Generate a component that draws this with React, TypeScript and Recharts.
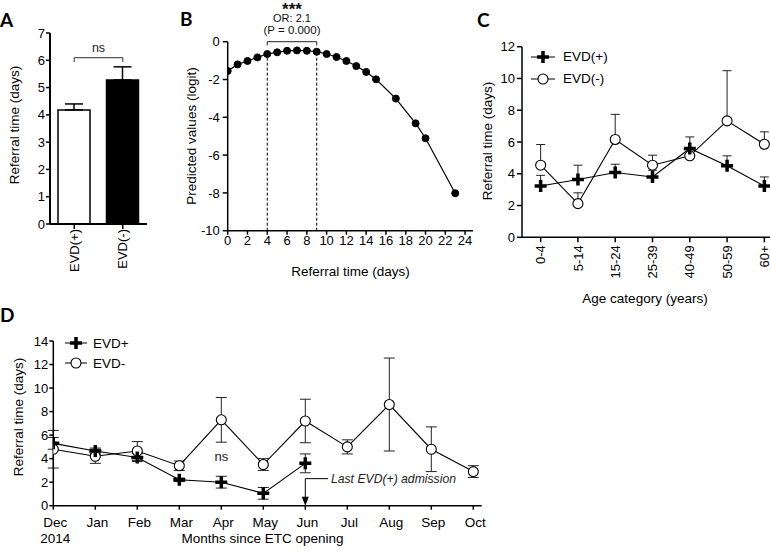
import React from "react";
import {
  BarChart,
  Bar,
  Cell,
  LineChart,
  Line,
  XAxis,
  YAxis,
  ErrorBar,
  ReferenceLine,
  ReferenceDot,
  Legend,
} from "recharts";

const W = 770;
const H = 554;
const FONT = "'Liberation Sans', Arial, sans-serif";

// A: referral time by EVD status
const groupsA = ["EVD(+)", "EVD(-)"];
const meanA = [4.18, 5.28];
const semA = [0.22, 0.48];

// B: predicted logit vs referral time
const daysB = [0, 1, 2, 3, 4, 5, 6, 7, 8, 9, 10, 11, 12, 13, 14, 15, 17, 19, 20, 23];
const logitB = [-1.55, -1.2, -1.02, -0.83, -0.65, -0.56, -0.48, -0.46, -0.48, -0.53, -0.65, -0.81, -1.02, -1.29, -1.6, -1.99, -3.01, -4.32, -5.11, -8.02];

// C: referral time by age category
const ageCats = ["0-4", "5-14", "15-24", "25-39", "40-49", "50-59", "60+"];
const posC = [3.23, 3.64, 4.08, 3.8, 5.59, 4.5, 3.23];
const posCErr = [0.67, 0.9, 0.52, 0.42, 0.73, 0.63, 0.57];
const negC = [4.54, 2.12, 6.16, 4.54, 5.13, 7.33, 5.86];
const negCErr = [1.3, 0.68, 1.58, 0.63, 0.5, 3.16, 0.78];

// D: referral time by month
const months = ["Dec", "Jan", "Feb", "Mar", "Apr", "May", "Jun", "Jul", "Aug", "Sep", "Oct"];
const posD = [5.3, 4.65, 4.1, 2.2, 2.0, 1.05, 3.6];
const posDErr = [0.5, 0.25, 0.35, 0.15, 0.5, 0.5, 0.8];
const negD = [4.8, 4.2, 4.65, 3.4, 7.3, 3.5, 7.2, 5.0, 8.6, 4.8, 2.9];
const negDErr = [1.6, 0.6, 0.8, 0.4, 1.9, 0.5, 1.85, 0.6, 3.95, 1.9, 0.5];

const dataA = groupsA.map((g, i) => ({ group: g, mean: meanA[i], err: [0, semA[i]] }));
const dataB = daysB.map((d, i) => ({ day: d, logit: logitB[i] }));
const posCData = posC.map((v, i) => ({ i, v, e: [0, posCErr[i]] }));
const negCData = negC.map((v, i) => ({ i, v, e: [0, negCErr[i]] }));
const posDData = posD.map((v, i) => ({ m: i, v, e: posDErr[i] }));
const negDData = negD.map((v, i) => ({ m: i, v, e: negDErr[i] }));

// plot box -> margin
function box(x0: number, x1: number, y0: number, y1: number, yw: number, xh: number, w = W) {
  return { top: y0, left: x0 - yw, right: w - x1, bottom: H - y1 - xh };
}

const axisLine = { stroke: "#000", strokeWidth: 1.5 };
const tickLine = { stroke: "#000", strokeWidth: 1.5 };
const tickStyle = { fill: "#000", fontSize: 13, fontFamily: FONT };

function RotTick(props: any) {
  const { x, y, payload, labels } = props;
  const label = labels ? labels[payload.value] : payload.value;
  return (
    <text x={x} y={y} transform={`rotate(-90 ${x} ${y})`} textAnchor="end" dy="0.36em" fontSize={13} fontFamily={FONT} fill="#000">
      {label}
    </text>
  );
}

function MonthTick(props: any) {
  const { x, y, payload } = props;
  return (
    <text x={x + 2} y={y} textAnchor="middle" fontSize={13.5} fontFamily={FONT} fill="#000">
      <tspan x={x + 2} dy="0.71em">{months[payload.value]}</tspan>
      {payload.value === 0 && <tspan x={x + 2} dy={16}>2014</tspan>}
    </text>
  );
}

function plusDot(props: any) {
  const { cx, cy, index } = props;
  if (cx == null || cy == null) return <g key={index} />;
  return (
    <path key={index} d={`M${cx - 6} ${cy}H${cx + 6}M${cx} ${cy - 6}V${cy + 6}`} stroke="#000" strokeWidth={3.5} fill="none" />
  );
}

function circleDot(props: any) {
  const { cx, cy, index } = props;
  if (cx == null || cy == null) return <g key={index} />;
  return <circle key={index} cx={cx} cy={cy} r={5} fill="#fff" stroke="#000" strokeWidth={1.1} />;
}

function LegendBox({ items, iconW, gap, rowH }: any) {
  return (
    <div style={{ fontFamily: FONT, fontSize: 13.5, color: "#000" }}>
      {items.map((it: any) => (
        <div key={it.name} style={{ display: "flex", alignItems: "center", height: rowH }}>
          <svg width={iconW} height={14}>
            <line x1={0} x2={iconW} y1={7} y2={7} stroke="#000" strokeWidth={1} />
            {it.plus ? (
              <path d={`M${iconW / 2 - 6} 7H${iconW / 2 + 6}M${iconW / 2} 1V13`} stroke="#000" strokeWidth={3.5} />
            ) : (
              <circle cx={iconW / 2} cy={7} r={5} fill="#fff" stroke="#000" strokeWidth={1.1} />
            )}
          </svg>
          <span style={{ marginLeft: gap }}>{it.name}</span>
        </div>
      ))}
    </div>
  );
}

const layer: React.CSSProperties = { position: "absolute", left: 0, top: 0 };

export default function App() {
  return (
    <div style={{ position: "absolute", left: 0, top: 0, width: W, height: H, overflow: "hidden", background: "#fff", fontFamily: FONT }}>
      {/* A */}
      <div style={layer}>
        <BarChart width={W} height={H} data={dataA} margin={box(50, 147, 33, 224, 50, 60)}>
          <XAxis dataKey="group" height={60} interval={0} tickSize={5} tickMargin={0} axisLine={{ stroke: "#000", strokeWidth: 2 }} tickLine={tickLine} tick={<RotTick />} />
          <YAxis type="number" domain={[0, 7]} ticks={[0, 1, 2, 3, 4, 5, 6, 7]} width={50} tickSize={4} tickMargin={1} axisLine={{ stroke: "#000", strokeWidth: 2 }} tickLine={tickLine} tick={tickStyle} />
          <Bar dataKey="mean" barSize={32} stroke="#000" strokeWidth={1.5} isAnimationActive={false}>
            {dataA.map((d, i) => (
              <Cell key={d.group} fill={i === 0 ? "#fff" : "#000"} />
            ))}
            <ErrorBar dataKey="err" width={9} stroke="#000" strokeWidth={1.5} direction="y" isAnimationActive={false} />
          </Bar>
          <ReferenceLine segment={[{ x: "EVD(+)", y: 6.1 }, { x: "EVD(-)", y: 6.1 }]} stroke="#555" strokeWidth={1.2} label={{ value: "ns", position: "top", offset: 6, fill: "#222", fontSize: 12.5, fontFamily: FONT }} />
          <ReferenceLine segment={[{ x: "EVD(+)", y: 6.1 }, { x: "EVD(+)", y: 5.94 }]} stroke="#555" strokeWidth={1.2} />
          <ReferenceLine segment={[{ x: "EVD(-)", y: 6.1 }, { x: "EVD(-)", y: 5.94 }]} stroke="#555" strokeWidth={1.2} />
        </BarChart>
      </div>

      {/* B */}
      <div style={layer}>
        <LineChart width={W} height={H} data={dataB} margin={box(227.7, 473, 41.7, 230.7, 45, 40)}>
          <XAxis type="number" dataKey="day" domain={[0, 24.8]} allowDataOverflow ticks={[0, 2, 4, 6, 8, 10, 12, 14, 16, 18, 20, 22, 24]} interval={0} height={40} tickSize={4} tickMargin={1} axisLine={axisLine} tickLine={tickLine} tick={tickStyle} />
          <YAxis type="number" domain={[-10, 0]} allowDataOverflow ticks={[-10, -8, -6, -4, -2, 0]} width={45} tickSize={5} tickMargin={3} axisLine={axisLine} tickLine={tickLine} tick={tickStyle} />
          <ReferenceLine segment={[{ x: 4, y: -10 }, { x: 4, y: -0.65 }]} stroke="#000" strokeWidth={1} strokeDasharray="3 2" />
          <ReferenceLine segment={[{ x: 9, y: -10 }, { x: 9, y: -0.53 }]} stroke="#000" strokeWidth={1} strokeDasharray="3 2" />
          <ReferenceLine segment={[{ x: 4, y: 0 }, { x: 9, y: 0 }]} stroke="#222" strokeWidth={1} />
          <ReferenceLine segment={[{ x: 4, y: 0 }, { x: 4, y: -0.2 }]} stroke="#222" strokeWidth={1} />
          <ReferenceLine segment={[{ x: 9, y: 0 }, { x: 9, y: -0.2 }]} stroke="#222" strokeWidth={1} />
          <ReferenceDot
            x={6.5}
            y={0}
            ifOverflow="visible"
            shape={(p: any) => (
              <g fontFamily={FONT} textAnchor="middle" fill="#111">
                <text x={p.cx} y={p.cy - 26.5} fontSize={17} fontWeight="bold">***</text>
                <text x={p.cx} y={p.cy - 23.5} fontSize={11} dominantBaseline="central">OR: 2.1</text>
                <text x={p.cx} y={p.cy - 11.5} fontSize={11.5} dominantBaseline="central">(P = 0.000)</text>
              </g>
            )}
          />
          <Line dataKey="logit" stroke="#000" strokeWidth={1.2} dot={{ r: 3.5, fill: "#000", stroke: "#000", strokeWidth: 1 }} isAnimationActive={false} />
        </LineChart>
      </div>

      {/* C */}
      <div style={layer}>
        <LineChart width={800} height={H} margin={box(522, 783, 46.7, 237.3, 45, 60, 800)}>
          <XAxis type="number" dataKey="i" domain={[-0.5, 6.5]} allowDataOverflow ticks={[0, 1, 2, 3, 4, 5, 6]} interval={0} height={60} tickSize={5} tickMargin={3} axisLine={axisLine} tickLine={tickLine} tick={<RotTick labels={ageCats} />} />
          <YAxis type="number" domain={[0, 12]} ticks={[0, 2, 4, 6, 8, 10, 12]} width={45} tickSize={5} tickMargin={2} axisLine={axisLine} tickLine={tickLine} tick={tickStyle} />
          <Line data={negCData} dataKey="v" stroke="#000" strokeWidth={1.1} dot={circleDot} isAnimationActive={false}>
            <ErrorBar dataKey="e" width={4.5} stroke="#222" strokeWidth={1} direction="y" isAnimationActive={false} />
          </Line>
          <Line data={posCData} dataKey="v" stroke="#000" strokeWidth={1.1} dot={plusDot} isAnimationActive={false}>
            <ErrorBar dataKey="e" width={4.5} stroke="#222" strokeWidth={1} direction="y" isAnimationActive={false} />
          </Line>
          <Legend
            layout="vertical"
            align="center"
            verticalAlign="middle"
            wrapperStyle={{ left: 531, top: 45.7, width: 120 }}
            content={() => <LegendBox items={[{ name: "EVD(+)", plus: true }, { name: "EVD(-)", plus: false }]} iconW={24} gap={8} rowH={22} />}
          />
        </LineChart>
      </div>

      {/* D */}
      <div style={layer}>
        <LineChart width={W} height={H} margin={box(53.3, 481.7, 341, 505.7, 50, 45)}>
          <XAxis type="number" dataKey="m" domain={[0, 10.2]} allowDataOverflow ticks={[0, 1, 2, 3, 4, 5, 6, 7, 8, 9, 10]} interval={0} height={45} tickSize={4} tickMargin={8} axisLine={axisLine} tickLine={tickLine} tick={<MonthTick />} />
          <YAxis type="number" domain={[0, 14]} ticks={[0, 2, 4, 6, 8, 10, 12, 14]} width={50} tickSize={4} tickMargin={1} axisLine={axisLine} tickLine={tickLine} tick={tickStyle} />
          <ReferenceLine segment={[{ x: 6, y: 2.3 }, { x: 6, y: 0.4 }]} stroke="#000" strokeWidth={1} />
          <ReferenceLine segment={[{ x: 6, y: 2.3 }, { x: 6.54, y: 2.3 }]} stroke="#000" strokeWidth={1} />
          <ReferenceDot x={6} y={0} shape={(p: any) => <path d={`M${p.cx - 3.5} ${p.cy - 9}L${p.cx + 3.5} ${p.cy - 9}L${p.cx} ${p.cy}Z`} fill="#000" />} />
          <ReferenceDot
            x={6.54}
            y={2.3}
            shape={(p: any) => (
              <text x={p.cx + 3} y={p.cy} dominantBaseline="central" fontSize={12.2} fontStyle="italic" fontFamily={FONT} fill="#222">
                Last EVD(+) admission
              </text>
            )}
          />
          <ReferenceDot
            x={4}
            y={4.16}
            shape={(p: any) => (
              <text x={p.cx} y={p.cy} textAnchor="middle" dominantBaseline="central" fontSize={13} fontFamily={FONT} fill="#222">
                ns
              </text>
            )}
          />
          <Line data={negDData} dataKey="v" stroke="#000" strokeWidth={1.1} dot={circleDot} isAnimationActive={false}>
            <ErrorBar dataKey="e" width={5.5} stroke="#222" strokeWidth={1} direction="y" isAnimationActive={false} />
          </Line>
          <Line data={posDData} dataKey="v" stroke="#000" strokeWidth={1.1} dot={plusDot} isAnimationActive={false}>
            <ErrorBar dataKey="e" width={5.5} stroke="#222" strokeWidth={1} direction="y" isAnimationActive={false} />
          </Line>
          <Legend
            layout="vertical"
            align="center"
            verticalAlign="middle"
            wrapperStyle={{ left: 65, top: 333.3, width: 120 }}
            content={() => <LegendBox items={[{ name: "EVD+", plus: true }, { name: "EVD-", plus: false }]} iconW={22} gap={6} rowH={20} />}
          />
        </LineChart>
      </div>

      {/* panel letters and axis titles */}
      <svg width={W} height={H} style={{ position: "absolute", left: 0, top: 0, pointerEvents: "none" }}>
        <g fontFamily="Lato, 'Open Sans', sans-serif" fontWeight="bold" fontSize={19} fill="#000">
          <text x={0} y={27}>A</text>
          <text x={180} y={25.5}>B</text>
          <text x={477} y={27}>C</text>
          <text x={0} y={322}>D</text>
        </g>
        <g fontFamily={FONT} fontSize={13.5} fill="#000" textAnchor="middle" dominantBaseline="central">
          <text x={14} y={125} transform="rotate(-90 14 125)">Referral time (days)</text>
          <text x={191} y={136} transform="rotate(-90 191 136)">Predicted values (logit)</text>
          <text x={350.5} y={271}>Referral time (days)</text>
          <text x={487} y={141} transform="rotate(-90 487 141)">Referral time (days)</text>
          <text x={645} y={298}>Age category (years)</text>
          <text x={18} y={417} transform="rotate(-90 18 417)">Referral time (days)</text>
          <text x={262.5} y={538}>Months since ETC opening</text>
        </g>
      </svg>
    </div>
  );
}
